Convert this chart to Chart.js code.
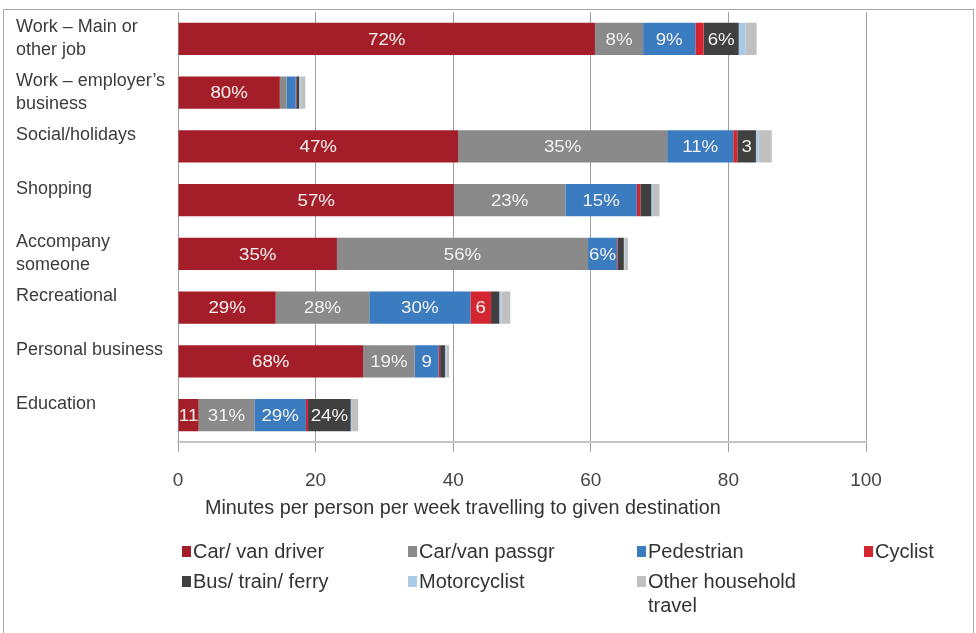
<!DOCTYPE html>
<html>
<head>
<meta charset="utf-8">
<script src="https://cdn.jsdelivr.net/npm/chart.js@4.4.1/dist/chart.umd.min.js"></script>
<style>
  html, body { margin: 0; padding: 0; background: #fff; }
  #wrap { position: relative; width: 976px; height: 633px; overflow: hidden; font-family: "Liberation Sans", Arial, sans-serif; }
  #frame { position: absolute; left: 3px; top: 9px; width: 971px; height: 640px; border: 1px solid #a8a8a8; box-sizing: border-box; }
  #chart { position: absolute; left: 0; top: 0; }
  #axisTitle { position: absolute; left: 205px; top: 496px; font-size: 19.8px; color: #333; white-space: nowrap; }
  #legend { position: absolute; left: 182px; top: 539px; display: grid; grid-template-columns: 226px 229px 227px 110px; row-gap: 6px; }
  .item { display: flex; align-items: flex-start; font-size: 20px; color: #333; line-height: 24px; white-space: normal; }
  .sw { width: 9px; height: 11px; margin: 7px 2px 0 0; flex: none; }
  .item span { max-width: 180px; }
</style>
</head>
<body>
<div id="wrap">
  <div id="frame"></div>
  <canvas id="chart" width="976" height="633"></canvas>
  <div id="axisTitle">Minutes per person per week travelling to given destination</div>
  <div id="legend"></div>
</div>
<script>
// Destinations, top to bottom (second line empty keeps single labels on the upper line)
const categories = [
  ['Work – Main or', 'other job'],
  ['Work – employer’s', 'business'],
  ['Social/holidays', ''],
  ['Shopping', ''],
  ['Accompany', 'someone'],
  ['Recreational', ''],
  ['Personal business', ''],
  ['Education', '']
];

const seriesNames = ['Car/ van driver', 'Car/van passgr', 'Pedestrian', 'Cyclist', 'Bus/ train/ ferry', 'Motorcyclist', 'Other household travel'];
const seriesColors = ['#a31e29', '#8a8a8a', '#3b7bc0', '#d42630', '#404040', '#a9cbe8', '#c0c0c0'];

// Minutes per person per week, one value per destination
const carDriver      = [60.6, 14.8, 40.7, 40.1, 23.1, 14.2, 26.9, 3.0];
const carPassenger   = [7.0, 1.0, 30.4, 16.2, 36.5, 13.6, 7.5, 8.1];
const pedestrian     = [7.6, 1.3, 9.6, 10.4, 4.2, 14.7, 3.5, 7.5];
const cyclist        = [1.2, 0.1, 0.6, 0.5, 0.1, 3.0, 0.2, 0.3];
const busTrainFerry  = [5.1, 0.4, 2.7, 1.6, 0.9, 1.2, 0.7, 6.2];
const motorcyclist   = [1.0, 0.2, 0.4, 0.2, 0.1, 0.3, 0.2, 0.2];
const otherHousehold = [1.6, 0.7, 1.9, 1.0, 0.5, 1.3, 0.4, 0.9];

const xTicks = [0, 20, 40, 60, 80, 100];

const seriesData = [carDriver, carPassenger, pedestrian, cyclist, busTrainFerry, motorcyclist, otherHousehold];

Chart.defaults.font.family = '"Liberation Sans", Arial, sans-serif';

// Share of each destination's total written inside the segment, dropping the % sign when it won't fit
const LABEL_STRETCH = 1.1;
const shareLabels = {
  id: 'shareLabels',
  afterDatasetsDraw(chart) {
    const ctx = chart.ctx;
    const totals = categories.map((_, i) => chart.data.datasets.reduce((s, ds) => s + ds.data[i], 0));
    ctx.save();
    ctx.font = '17px "Liberation Sans", Arial, sans-serif';
    ctx.fillStyle = '#f4f1f1';
    ctx.textAlign = 'center';
    ctx.textBaseline = 'middle';
    const width = t => ctx.measureText(t).width * LABEL_STRETCH;
    chart.data.datasets.forEach((ds, d) => {
      chart.getDatasetMeta(d).data.forEach((bar, i) => {
        const pct = Math.round(ds.data[i] / totals[i] * 100);
        if (pct < 3) return;
        const w = Math.abs(bar.x - bar.base) + 1;
        let txt = pct + '%';
        if (width(txt) > w) txt = String(pct);
        if (width(txt) > w) return;
        ctx.save();
        ctx.translate((bar.x + bar.base) / 2, bar.y + 1);
        ctx.scale(LABEL_STRETCH, 1);
        ctx.fillText(txt, 0, 0);
        ctx.restore();
      });
    });
    ctx.restore();
  }
};

new Chart(document.getElementById('chart'), {
  type: 'bar',
  data: {
    labels: categories,
    datasets: seriesNames.map((name, k) => ({
      label: name,
      data: seriesData[k],
      backgroundColor: seriesColors[k],
      borderWidth: 0,
      barPercentage: 0.6,
      categoryPercentage: 1
    }))
  },
  options: {
    indexAxis: 'y',
    responsive: false,
    animation: false,
    layout: { padding: { left: 16, top: 12, right: 110, bottom: 0 } },
    plugins: { legend: { display: false }, tooltip: { enabled: false } },
    scales: {
      x: {
        stacked: true,
        min: 0,
        max: 100,
        afterBuildTicks: s => { s.ticks = xTicks.map(v => ({ value: v })); },
        grid: { color: '#a0a0a0', tickLength: 10 },
        border: { color: '#c4c4c4', width: 2 },
        ticks: { font: { size: 19 }, color: '#444', padding: 17 },
        afterFit: s => { s.height = 191; }
      },
      y: {
        stacked: true,
        grid: { display: false },
        border: { display: false },
        ticks: { crossAlign: 'far', font: { size: 18, lineHeight: 1.28 }, color: '#3c3c3c', padding: 0 },
        afterFit: s => { s.width = 162; s.paddingTop = 0; s.paddingBottom = 0; }
      }
    }
  },
  plugins: [shareLabels]
});

// Legend in four columns under the axis title
const legend = document.getElementById('legend');
seriesNames.forEach((name, k) => {
  const item = document.createElement('div');
  item.className = 'item';
  item.innerHTML = `<i class="sw" style="background:${seriesColors[k]}"></i><span>${name}</span>`;
  legend.appendChild(item);
});
</script>
</body>
</html>
